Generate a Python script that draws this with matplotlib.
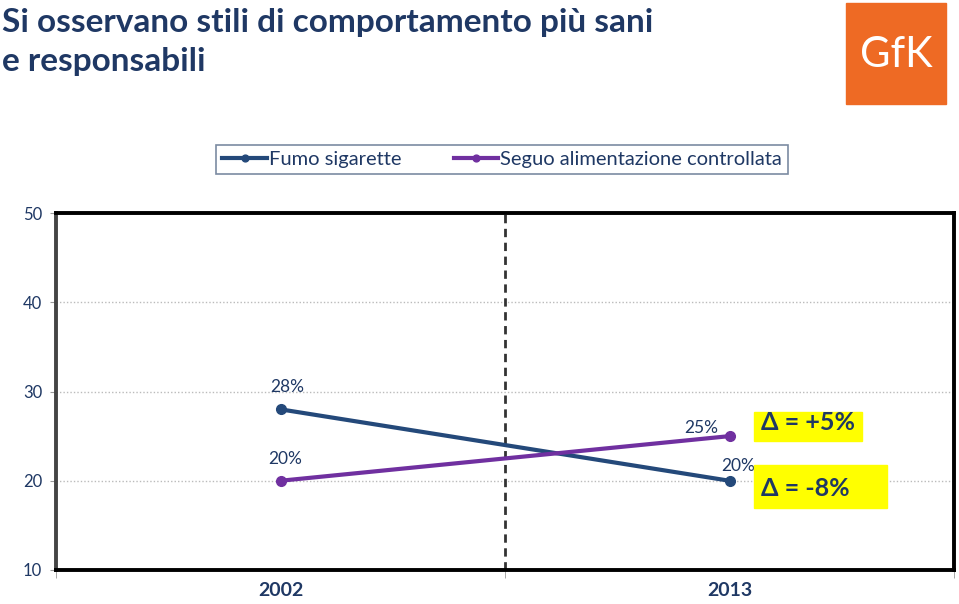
import numpy as np
import matplotlib.pyplot as plt
from matplotlib.patches import Rectangle

years = ['2002', '2013']
fumo = [28, 20]
seguo = [20, 25]
series_names = ['Fumo sigarette', 'Seguo alimentazione controllata']
deltas = ['\u0394 = +5%', '\u0394 = -8%']
yticks = [10, 20, 30, 40, 50]

navy = '#1F3864'
blue = '#24497A'
purple = '#7030A0'

plt.rcParams['font.family'] = ['Lato', 'DejaVu Sans']

fig = plt.figure(figsize=(9.59, 6.04), dpi=100)
ax = fig.add_axes([56 / 959, 34 / 604, 898 / 959, 357 / 604])

x = np.arange(len(years))
ax.plot(x, fumo, color=blue, lw=3, marker='o', ms=7, label=series_names[0])
ax.plot(x, seguo, color=purple, lw=3, marker='o', ms=7, label=series_names[1])

ax.set_xlim(-0.5, 1.5)
ax.set_ylim(10, 50)
ax.set_yticks(yticks)
ax.set_yticklabels([str(v) for v in yticks], color=navy, fontsize=12)
ax.tick_params(axis='y', length=4, color='#999999', pad=6)

ax.set_xticks(x)
ax.set_xticklabels(years, fontsize=14, fontweight='bold', color=navy)
ax.set_xticks([-0.5, 0.5, 1.5], minor=True)
ax.tick_params(axis='x', which='major', length=0, pad=9)
ax.tick_params(axis='x', which='minor', length=6, color='#999999')

for v in [20, 30, 40]:
    ax.axhline(v, color='#BBBBBB', lw=1, ls=(0, (1, 1.5)), zorder=0)
ax.axvline(0.5, color='#333333', lw=2, ls=(0, (3, 2)), zorder=1)

for s in ax.spines.values():
    s.set_color('black')
    s.set_linewidth(2.8)
ax.spines['left'].set_color('#444444')

# data labels
ax.annotate('%d%%' % fumo[0], (x[0], fumo[0]), xytext=(5, 10), textcoords='offset points',
            ha='center', va='bottom', fontsize=12.5, color=navy)
ax.annotate('%d%%' % seguo[0], (x[0], seguo[0]), xytext=(3, 10), textcoords='offset points',
            ha='center', va='bottom', fontsize=12.5, color=navy)
ax.annotate('%d%%' % seguo[1], (x[1], seguo[1]), xytext=(-8, 0), textcoords='offset points',
            ha='right', va='bottom', fontsize=12.5, color=navy)
ax.annotate('%d%%' % fumo[1], (x[1], fumo[1]), xytext=(6, 5), textcoords='offset points',
            ha='center', va='bottom', fontsize=12.5, color=navy)

# delta boxes
fig.patches.append(Rectangle((754 / 959, 1 - 441 / 604), 108 / 959, 29 / 604,
                             transform=fig.transFigure, color='#FFFF00', zorder=2))
fig.text(808 / 959, 1 - 422 / 604, deltas[0], ha='center', va='center',
         fontsize=18, fontweight='bold', color=navy, zorder=3)
fig.patches.append(Rectangle((754 / 959, 1 - 508 / 604), 133 / 959, 43 / 604,
                             transform=fig.transFigure, color='#FFFF00', zorder=2))
fig.text(805 / 959, 1 - 489 / 604, deltas[1], ha='center', va='center',
         fontsize=18, fontweight='bold', color=navy, zorder=3)

# legend
leg = ax.legend(loc='lower center', bbox_to_anchor=(502 / 959, 1 - 174 / 604), bbox_transform=fig.transFigure,
                ncol=2, frameon=True, fancybox=False, fontsize=14.5, handlelength=2.2,
                handletextpad=0.1, columnspacing=2.6, borderpad=0.3, labelcolor=navy,
                markerscale=0.7, borderaxespad=0)
leg.get_frame().set_edgecolor('#5A6E8A')
leg.get_frame().set_linewidth(1.2)

# title
fig.text(2 / 959, 1 - 42 / 604, 'Si osservano stili di comportamento più sani\ne responsabili',
         ha='left', va='center', fontsize=24, fontweight='bold', color=navy, linespacing=1.4)

# logo
fig.patches.append(Rectangle((846 / 959, 1 - 104 / 604), 100 / 959, 101 / 604,
                             transform=fig.transFigure, color='#EE6A24', zorder=2))
fig.text(896 / 959, 1 - 55 / 604, 'GfK', ha='center', va='center', fontsize=30,
         color='white', zorder=3)

fig.savefig('out.png', dpi=100)
